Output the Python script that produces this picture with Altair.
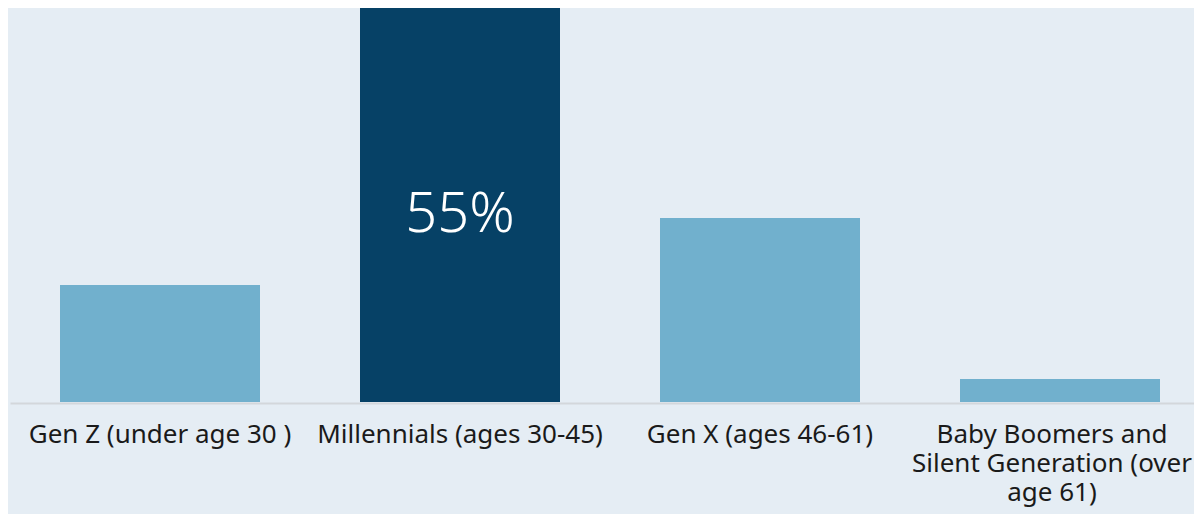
import altair as alt
import pandas as pd

# Data
categories = [
    "Gen Z (under age 30 )",
    "Millennials (ages 30-45)",
    "Gen X (ages 46-61)",
    "Baby Boomers and|Silent Generation (over|age 61)",
]
values = [16.2, 55.0, 25.5, 3.2]
groups = ["other", "focus", "other", "other"]
bar_labels = ["", "55%", "", ""]

df = pd.DataFrame({
    "category": categories,
    "value": values,
    "group": groups,
    "label": bar_labels,
})

BG = "#e5edf4"
LIGHT = "#71b0cd"
DARK = "#064166"

x_enc = alt.X(
    "category:N",
    sort=categories,
    scale=alt.Scale(paddingInner=1 / 3, paddingOuter=1 / 6),
    axis=alt.Axis(
        title=None,
        labelExpr="split(datum.label, '|')",
        labelAngle=0,
        labelFont="Noto Sans",
        labelFontSize=26,
        labelColor="#1a1a1a",
        labelLineHeight=29,
        labelPadding=18,
        labelBaseline="top",
        labelLimit=600,
        labelOverlap=False,
        labelOffset={"condition": {"test": "datum.index == 1", "value": -8}, "value": 0},
        ticks=False,
        domainColor="#d3d7db",
        domainWidth=2,
        offset=1,
        grid=False,
    ),
)

y_scale = alt.Scale(domain=[0, 54.6])

bars = alt.Chart(df).mark_bar().encode(
    x=x_enc,
    y=alt.Y("value:Q", scale=y_scale, axis=None),
    color=alt.Color(
        "group:N",
        scale=alt.Scale(domain=["other", "focus"], range=[LIGHT, DARK]),
        legend=None,
    ),
)

text = (
    alt.Chart(df)
    .transform_calculate(mid="datum.value / 2")
    .mark_text(
        font="Noto Sans",
        fontSize=56,
        fontWeight=300,
        color="white",
        baseline="middle",
        align="center",
        dy=11,
    )
    .encode(
        x=alt.X("category:N", sort=categories),
        y=alt.Y("mid:Q", scale=y_scale, axis=None),
        text="label:N",
    )
)

chart = (
    alt.layer(bars, text)
    .properties(
        width=1200,
        height=394,
        background=BG,
        padding={"left": 2, "top": 0, "right": -16, "bottom": 112},
        autosize=alt.AutoSizeParams(type="none"),
    )
    .configure_view(stroke=None)
)

chart.save("out.html", embed_options={"renderer": "svg", "actions": False})
